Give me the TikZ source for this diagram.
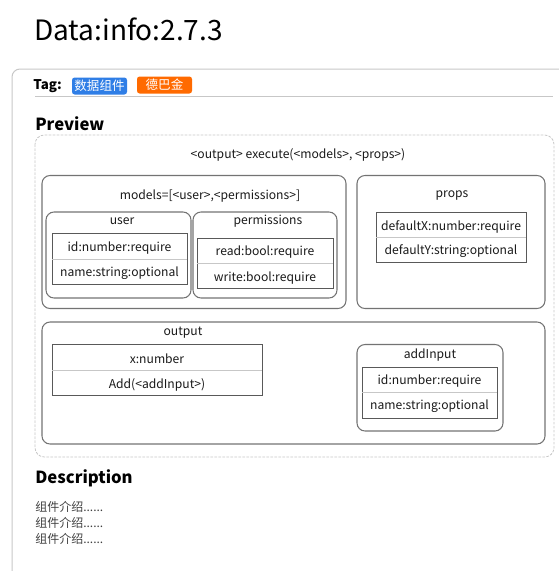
\documentclass[tikz,border=0pt]{standalone}
\usepackage{fontspec}
\setmainfont{Noto Sans CJK SC}
\newcommand\fsz[1]{\fontsize{#1}{#1}\selectfont}
\definecolor{tagblue}{HTML}{2F7EE6}
\definecolor{tagorange}{HTML}{FF6A00}
\begin{document}
\begin{tikzpicture}[x=0.75pt,y=-0.75pt,
  every node/.style={inner sep=0pt},
  cardline/.style={draw=black!22, line width=0.75pt},
  grp/.style={draw=black!55, rounded corners=6pt, line width=0.8pt},
  tbl/.style={draw=black!65, line width=0.65pt},
  sep/.style={draw=black!22, line width=0.6pt},
  txt/.style={font=\fsz{9.1}, text=black!90, yshift=-1.2pt},
  head/.style={font=\fsz{12.5}\bfseries, anchor=west},
  desc/.style={font=\fsz{9}, text=black!75, anchor=west}]
\useasboundingbox (0,0) rectangle (559,571);
% title
\node[font=\fsz{21}, anchor=west] (title) at (34,29) {Data:info:2.7.3};
% card
\draw[cardline, rounded corners=6pt] (12,580) -- (12,69) -- (565,69);
% tag row
\node[font=\fsz{10}\bfseries, anchor=west] (tag) at (33,86) {Tag:};
\fill[tagblue, rounded corners=2pt] (72,77.5) rectangle (127,94.5);
\node[text=white, font=\fsz{9.4}] (b1) at (99.5,86) {数据组件};
\fill[tagorange, rounded corners=2pt] (137,76.5) rectangle (192,93.5);
\node[text=white, font=\fsz{9.4}] (b2) at (164.5,85) {德巴金};
\draw[cardline] (35,96) -- (553,96);
% preview
\node[head] (preview) at (35,123.5) {Preview};
\draw[draw=black!22, dashed, dash pattern=on 2pt off 1pt, rounded corners=7pt, line width=0.6pt] (35,135) rectangle (554,457);
\node[txt] (exec) at (298,153) {<output> execute(<models>, <props>)};
% models
\draw[grp] (42,175.5) rectangle (346,308.5);
\node[txt] (models) at (210,194) {models=[<user>,<permissions>]};
% user
\draw[grp] (46,212) rectangle (191,298);
\node[txt] (user) at (122,220) {user};
\draw[tbl] (52,233) rectangle (187,284);
\draw[sep] (52,259) -- (187,259);
\node[txt] (u1) at (119.5,246) {id:number:require};
\node[txt] (u2) at (119.5,272) {name:string:optional};
% permissions
\draw[grp] (193,212) rectangle (337,298);
\node[txt] (perm) at (268,220) {permissions};
\draw[tbl] (197,238) rectangle (333,288);
\draw[sep] (197,263) -- (333,263);
\node[txt] (p1) at (265,250) {read:bool:require};
\node[txt] (p2) at (265,276) {write:bool:require};
% props
\draw[grp] (357,175.5) rectangle (545,308.5);
\node[txt] (props) at (452,194) {props};
\draw[tbl] (376,212) rectangle (526,262);
\draw[sep] (376,237) -- (526,237);
\node[txt] (d1) at (451,225) {defaultX:number:require};
\node[txt] (d2) at (451,250) {defaultY:string:optional};
% output
\draw[grp] (42,322) rectangle (545,444);
\node[txt] (out) at (183,331) {output};
\draw[tbl] (52,344.5) rectangle (262,395);
\draw[sep] (52,370) -- (262,370);
\node[txt] (o1) at (157,357) {x:number};
\node[txt] (o2) at (157,383) {Add(<addInput>)};
% addInput
\draw[grp] (357,344.5) rectangle (503,431);
\node[txt] (add) at (430,353) {addInput};
\draw[tbl] (362,367) rectangle (497,418);
\draw[sep] (362,392) -- (497,392);
\node[txt] (a1) at (429.5,379) {id:number:require};
\node[txt] (a2) at (429.5,405) {name:string:optional};
% description
\node[head] (description) at (35,478.5) {Description};
\node[desc] (l1) at (35,507) {组件介绍......};
\node[desc] (l2) at (35,523) {组件介绍......};
\node[desc] (l3) at (35,539) {组件介绍......};
\end{tikzpicture}
\end{document}
